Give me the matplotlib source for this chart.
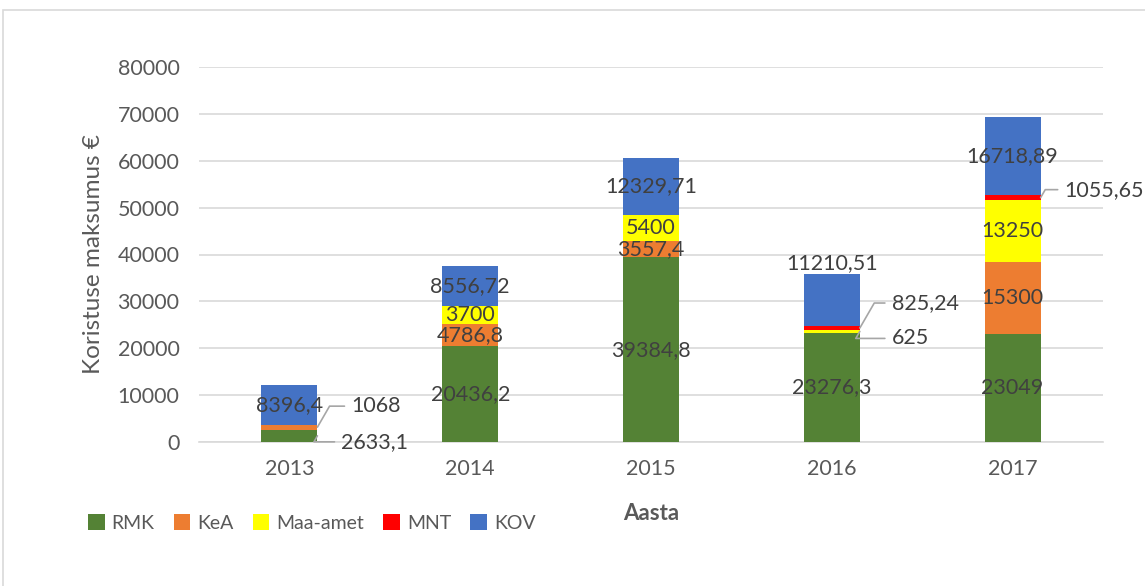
import numpy as np
import matplotlib.pyplot as plt
from matplotlib.patches import Rectangle

plt.rcParams['font.family'] = ['Lato', 'DejaVu Sans']

years = ["2013", "2014", "2015", "2016", "2017"]
rmk = [2633.1, 20436.2, 39384.8, 23276.3, 23049]
kea = [1068, 4786.8, 3557.4, 0, 15300]
maa_amet = [0, 3700, 5400, 625, 13250]
mnt = [0, 0, 0, 825.24, 1055.65]
kov = [8396.4, 8556.72, 12329.71, 11210.51, 16718.89]

series = [("RMK", rmk, "#548235"),
          ("KeA", kea, "#ED7D31"),
          ("Maa-amet", maa_amet, "#FFFF00"),
          ("MNT", mnt, "#FF0000"),
          ("KOV", kov, "#4472C4")]

# labels that Excel pushed outside the bar: (series, year index) -> pixel offset
outside = {("KeA", 0): (34, 21), ("RMK", 0): (24, -6),
           ("Maa-amet", 3): (32, -7), ("MNT", 3): (32, 25),
           ("MNT", 4): (24, 8)}
shifted = {("KOV", 3): (0, 37)}

fs = 15.5
txt = "#404040"
fig = plt.figure(figsize=(11.45, 5.86), dpi=100)
ax = fig.add_axes([199 / 1145, 144 / 586, 904 / 1145, 375 / 586])

# chart border
fig.patches.append(Rectangle((3 / 1145, -0.1), 1.2, (586 - 10) / 586 + 0.1,
                             transform=fig.transFigure, fill=False,
                             edgecolor="#D9D9D9", linewidth=1.2))

x = np.arange(len(years))
w = 0.31
bottom = np.zeros(len(years))
for name, vals, col in series:
    vals = np.array(vals, dtype=float)
    ax.bar(x, vals, w, bottom=bottom, color=col, label=name, zorder=3)
    for i, v in enumerate(vals):
        if v == 0:
            continue
        lab = f"{v:.2f}".rstrip("0").rstrip(".").replace(".", ",")
        mid = bottom[i] + v / 2
        if (name, i) in outside:
            dx, dy = outside[(name, i)]
            ax.annotate(lab, xy=(i + w / 2, mid), xytext=(dx, dy),
                        textcoords="offset pixels", ha="left", va="center",
                        fontsize=fs, color=txt, zorder=5,
                        arrowprops=dict(arrowstyle="-", color="#A6A6A6", lw=1.2,
                                        relpos=(0, 0.5), shrinkA=3, shrinkB=0,
                                        connectionstyle="angle,angleA=0,angleB=60,rad=0"))
        elif (name, i) in shifted:
            dx, dy = shifted[(name, i)]
            ax.annotate(lab, xy=(i, mid), xytext=(dx, dy), textcoords="offset pixels",
                        ha="center", va="center", fontsize=fs, color=txt, zorder=5)
        else:
            ax.text(i, mid, lab, ha="center", va="center", fontsize=fs,
                    color=txt, zorder=5)
    bottom += vals

ax.set_xlim(-0.5, 4.5)
ax.set_ylim(0, 80000)
ax.set_yticks(np.arange(0, 80001, 10000))
ax.set_xticks(x)
ax.set_xticklabels(years)
ax.grid(axis="y", color="#D9D9D9", linewidth=1.2, zorder=0)
ax.tick_params(length=0, labelsize=fs, colors="#595959", pad=14)
ax.tick_params(axis="x", pad=12)
for s in ["top", "right", "left"]:
    ax.spines[s].set_visible(False)
ax.spines["bottom"].set_color("#D9D9D9")
ax.spines["bottom"].set_linewidth(1.2)

fig.text(93 / 1145, 1 - 254 / 586, "Koristuse maksumus €", rotation=90,
         ha="center", va="center", fontsize=17.5, color="#595959")
fig.text(651 / 1145, 1 - 513 / 586, "Aasta", ha="center", va="center",
         fontsize=16, fontweight="bold", color="#595959")

fig.legend(loc="center left", bbox_to_anchor=(88 / 1145, 1 - 523 / 586), ncol=5,
           frameon=False, fontsize=14, handlelength=0.85, handleheight=0.85,
           handletextpad=0.35, columnspacing=1.0, borderpad=0, borderaxespad=0,
           labelcolor="#595959")

fig.savefig("out.png", dpi=100)
